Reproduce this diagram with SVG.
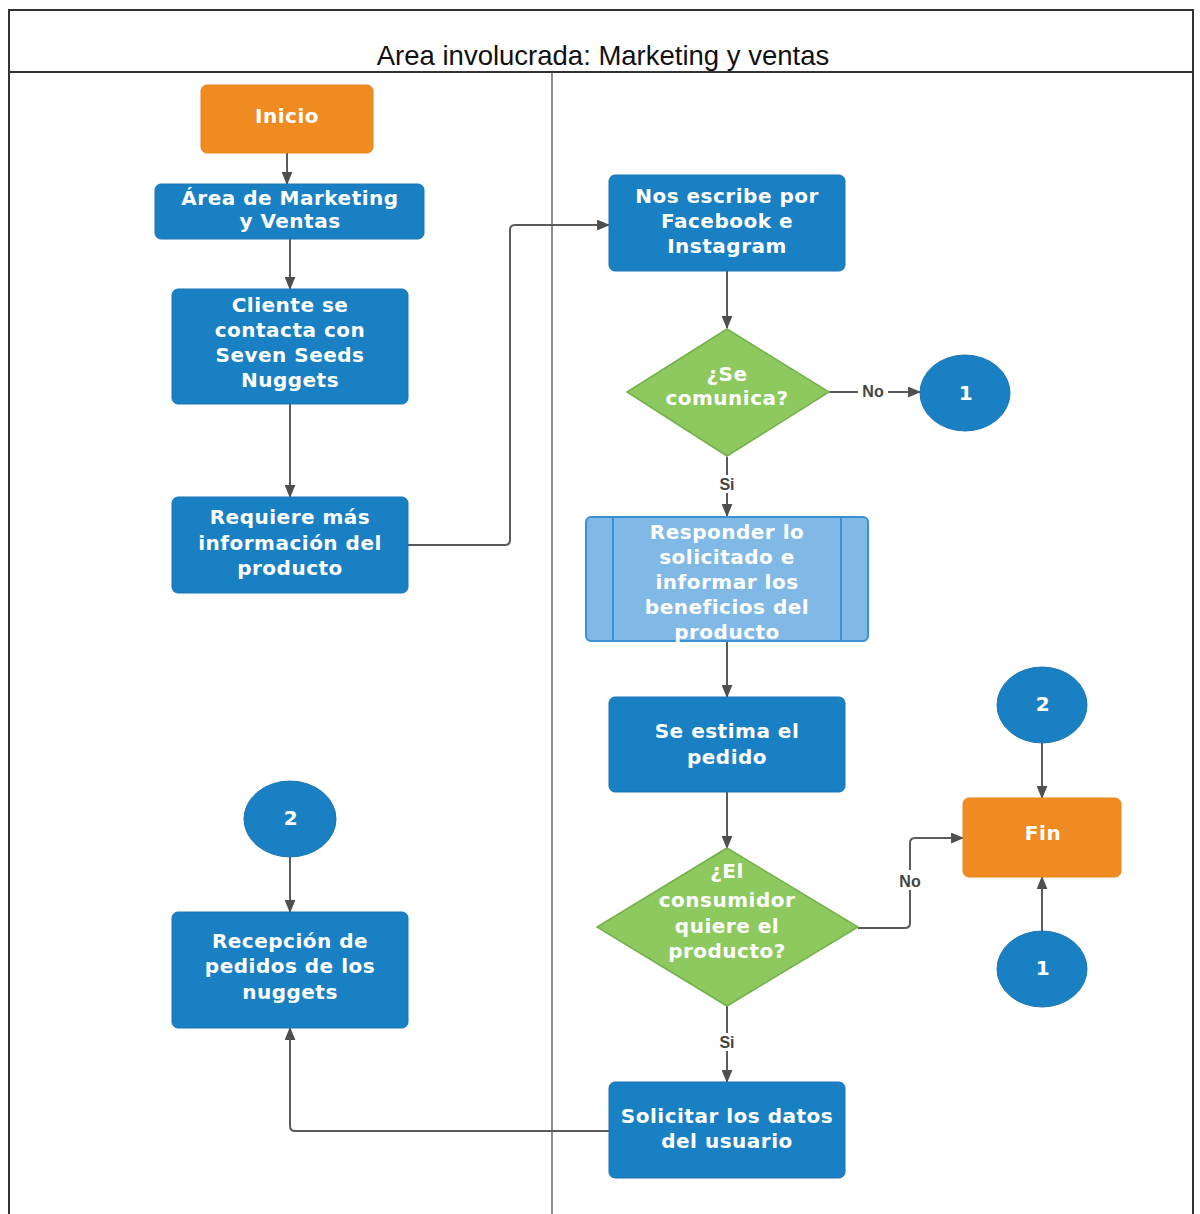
<svg xmlns="http://www.w3.org/2000/svg" width="1200" height="1214" viewBox="0 0 1200 1214">
  <defs>
    <marker id="arrow" viewBox="0 0 12 10" refX="11" refY="5" markerWidth="13" markerHeight="11" markerUnits="userSpaceOnUse" orient="auto">
      <path d="M0,0 L12,5 L0,10 Z" fill="#4f4f4f"/>
    </marker>
    <style>
      .frame { fill: none; stroke: #333; stroke-width: 2; }
      .lane { stroke: #444; stroke-width: 1.2; }
      .title { font-family: "Liberation Sans", Arial, sans-serif; font-size: 27.5px; fill: #111; text-anchor: middle; }
      .proc { fill: #1A80C4; stroke: #1A74B3; stroke-width: 1; }
      .term { fill: #EF8B21; stroke: #E88418; stroke-width: 1; }
      .dec { fill: #8DC95F; stroke: #74B04A; stroke-width: 1.5; }
      .sub { fill: #80B9E6; stroke: #3A90D2; stroke-width: 2; }
      .circ { fill: #1A80C4; stroke: #1A74B3; stroke-width: 1; }
      .lbl { font-family: "DejaVu Sans", "Liberation Sans", sans-serif; font-size: 20px; font-weight: bold; fill: #fff; text-anchor: middle; letter-spacing: 0.5px; }
      .conn { fill: none; stroke: #5a5a5a; stroke-width: 2; marker-end: url(#arrow); }
      .edge { font-family: "Liberation Sans", Arial, sans-serif; font-size: 16px; font-weight: bold; fill: #444; text-anchor: middle; }
    </style>
  </defs>

  <rect width="1200" height="1214" fill="#fff"/>

  <!-- swimlane frame -->
  <g id="lane">
    <path class="frame" d="M9,1214 V10 H1193 V1214"/>
    <line class="frame" x1="9" y1="72" x2="1193" y2="72"/>
    <line class="lane" x1="552" y1="72" x2="552" y2="1214"/>
    <text class="title" x="603" y="65">Area involucrada: Marketing y ventas</text>
  </g>

  <!-- connectors -->
  <g id="connectors">
    <line class="conn" x1="287" y1="153" x2="287" y2="184"/>
    <line class="conn" x1="290" y1="239" x2="290" y2="289"/>
    <line class="conn" x1="290" y1="404" x2="290" y2="497"/>
    <path class="conn" d="M408,545 H505 Q510,545 510,540 V230 Q510,225 515,225 H609"/>
    <line class="conn" x1="727" y1="271" x2="727" y2="328"/>
    <line class="conn" x1="829" y1="392" x2="920" y2="392"/>
    <line class="conn" x1="727" y1="457" x2="727" y2="516"/>
    <line class="conn" x1="727" y1="641" x2="727" y2="697"/>
    <line class="conn" x1="727" y1="792" x2="727" y2="848"/>
    <path class="conn" d="M858,928 H905 Q910,928 910,923 V843 Q910,838 915,838 H963"/>
    <line class="conn" x1="727" y1="1006" x2="727" y2="1082"/>
    <path class="conn" d="M609,1131 H295 Q290,1131 290,1126 V1028"/>
    <line class="conn" x1="290" y1="857" x2="290" y2="912"/>
    <line class="conn" x1="1042" y1="743" x2="1042" y2="798"/>
    <line class="conn" x1="1042" y1="932" x2="1042" y2="877"/>
    <!-- edge labels -->
    <rect x="858" y="382" width="30" height="18" fill="#fff"/>
    <text class="edge" x="873" y="397">No</text>
    <rect x="896" y="870" width="28" height="20" fill="#fff"/>
    <text class="edge" x="910" y="887">No</text>
    <rect x="717" y="475" width="20" height="18" fill="#fff"/>
    <text class="edge" x="727" y="490">Si</text>
    <rect x="717" y="1033" width="20" height="18" fill="#fff"/>
    <text class="edge" x="727" y="1048">Si</text>
  </g>

  <g id="inicio">
    <rect class="term" x="201" y="85" width="172" height="68" rx="6"/>
    <text class="lbl" x="287" y="123">Inicio</text>
  </g>

  <g id="area">
    <rect class="proc" x="155" y="184" width="269" height="55" rx="6"/>
    <text class="lbl" x="290" y="205">Área de Marketing</text>
    <text class="lbl" x="290" y="228">y Ventas</text>
  </g>

  <g id="cliente">
    <rect class="proc" x="172" y="289" width="236" height="115" rx="6"/>
    <text class="lbl" x="290" y="312">Cliente se</text>
    <text class="lbl" x="290" y="337">contacta con</text>
    <text class="lbl" x="290" y="362">Seven Seeds</text>
    <text class="lbl" x="290" y="387">Nuggets</text>
  </g>

  <g id="requiere">
    <rect class="proc" x="172" y="497" width="236" height="96" rx="6"/>
    <text class="lbl" x="290" y="524">Requiere más</text>
    <text class="lbl" x="290" y="550">información del</text>
    <text class="lbl" x="290" y="575">producto</text>
  </g>

  <g id="escribe">
    <rect class="proc" x="609" y="175" width="236" height="96" rx="6"/>
    <text class="lbl" x="727" y="203">Nos escribe por</text>
    <text class="lbl" x="727" y="228">Facebook e</text>
    <text class="lbl" x="727" y="253">Instagram</text>
  </g>

  <g id="comunica">
    <polygon class="dec" points="727,329 829,392 727,456 627,392"/>
    <text class="lbl" x="727" y="381">¿Se</text>
    <text class="lbl" x="727" y="405">comunica?</text>
  </g>

  <g id="conector1a">
    <ellipse class="circ" cx="965" cy="393" rx="45" ry="38"/>
    <text class="lbl" x="966" y="400">1</text>
  </g>

  <g id="responder">
    <rect class="sub" x="586" y="517" width="282" height="124" rx="5"/>
    <line x1="613" y1="517" x2="613" y2="641" stroke="#3A90D2" stroke-width="2"/>
    <line x1="841" y1="517" x2="841" y2="641" stroke="#3A90D2" stroke-width="2"/>
    <text class="lbl" x="727" y="539">Responder lo</text>
    <text class="lbl" x="727" y="564">solicitado e</text>
    <text class="lbl" x="727" y="589">informar los</text>
    <text class="lbl" x="727" y="614">beneficios del</text>
    <text class="lbl" x="727" y="639">producto</text>
  </g>

  <g id="estima">
    <rect class="proc" x="609" y="697" width="236" height="95" rx="6"/>
    <text class="lbl" x="727" y="738">Se estima el</text>
    <text class="lbl" x="727" y="764">pedido</text>
  </g>

  <g id="quiere">
    <polygon class="dec" points="727,848 858,927 727,1006 597,927"/>
    <text class="lbl" x="727" y="878">¿El</text>
    <text class="lbl" x="727" y="907">consumidor</text>
    <text class="lbl" x="727" y="933">quiere el</text>
    <text class="lbl" x="727" y="958">producto?</text>
  </g>

  <g id="solicitar">
    <rect class="proc" x="609" y="1082" width="236" height="96" rx="6"/>
    <text class="lbl" x="727" y="1123">Solicitar los datos</text>
    <text class="lbl" x="727" y="1148">del usuario</text>
  </g>

  <g id="conector2a">
    <ellipse class="circ" cx="290" cy="819" rx="46" ry="38"/>
    <text class="lbl" x="291" y="825">2</text>
  </g>

  <g id="recepcion">
    <rect class="proc" x="172" y="912" width="236" height="116" rx="6"/>
    <text class="lbl" x="290" y="948">Recepción de</text>
    <text class="lbl" x="290" y="973">pedidos de los</text>
    <text class="lbl" x="290" y="999">nuggets</text>
  </g>

  <g id="conector2b">
    <ellipse class="circ" cx="1042" cy="705" rx="45" ry="38"/>
    <text class="lbl" x="1043" y="711">2</text>
  </g>

  <g id="fin">
    <rect class="term" x="963" y="798" width="158" height="79" rx="6"/>
    <text class="lbl" x="1043" y="840">Fin</text>
  </g>

  <g id="conector1b">
    <ellipse class="circ" cx="1042" cy="969" rx="45" ry="38"/>
    <text class="lbl" x="1043" y="975">1</text>
  </g>
</svg>
